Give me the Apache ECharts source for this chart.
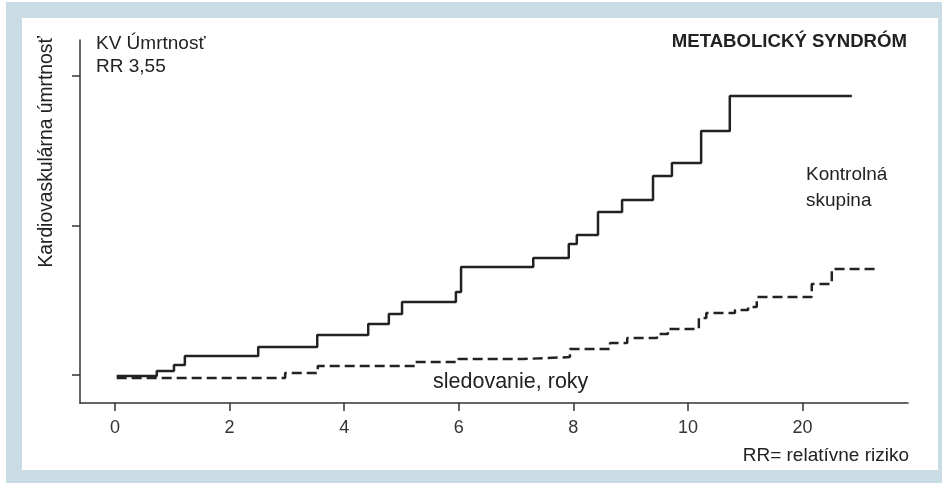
<!DOCTYPE html>
<html>
<head>
<meta charset="utf-8">
<script src="https://cdn.jsdelivr.net/npm/echarts@6/dist/echarts.min.js"></script>
<style>
  html, body { margin: 0; padding: 0; background: #fff; }
  #chart { width: 942px; height: 483px; }
</style>
</head>
<body>
<div id="chart"></div>
<script>
// osi: 2 roky na dielik, posledný dielik je označený "20"
const xTicks = [0, 2, 4, 6, 8, 10, 12];
const xTickLabels = ['0', '2', '4', '6', '8', '10', '20'];
const yTicks = [0, 1, 2];

// kontrolná skupina (plná čiara) - body schodov
const controlX = [0.03, 0.73, 1.03, 1.22, 2.50, 3.53, 4.42, 4.78, 5.01, 5.95, 6.04, 7.30, 7.92, 8.06, 8.43, 8.85, 9.39, 9.72, 10.23, 10.73, 12.86];
const controlY = [-0.007, 0.027, 0.067, 0.127, 0.187, 0.268, 0.341, 0.408, 0.488, 0.555, 0.722, 0.783, 0.876, 0.936, 1.090, 1.171, 1.331, 1.418, 1.632, 1.866, 1.866];

// metabolický syndróm (prerušovaná čiara)
const syndromeX = [0.03, 2.97, 3.54, 5.24, 5.99, 7.12, 7.94, 8.64, 8.94, 9.46, 9.65, 10.19, 10.32, 10.82, 11.05, 11.20, 12.16, 12.51, 13.26];
const syndromeY = [-0.020, 0.013, 0.060, 0.087, 0.107, 0.120, 0.174, 0.214, 0.247, 0.274, 0.308, 0.381, 0.415, 0.435, 0.455, 0.522, 0.609, 0.709, 0.709];

const FONT = "'Liberation Sans', Arial, sans-serif";
const INK = '#222';

const zip = (xs, ys) => xs.map((x, i) => [x, ys[i]]);

const chart = echarts.init(document.getElementById('chart'));

const txt = (text, x, y, align, font) => ({
  type: 'text',
  x: x,
  y: y,
  silent: true,
  style: {
    text: text,
    fill: INK,
    font: (font || '19px') + ' ' + FONT,
    align: align,
    verticalAlign: 'middle'
  }
});

const option = {
  animation: false,
  grid: { left: 80, right: 34, top: 40, bottom: 80, containLabel: false },
  xAxis: {
    type: 'value',
    min: -0.61,
    max: 13.84,
    splitLine: { show: false },
    axisLine: { show: true, onZero: false, lineStyle: { color: '#333', width: 1.5 } },
    axisTick: { show: true, customValues: xTicks, length: 8, lineStyle: { color: '#333', width: 1.5 } },
    axisLabel: {
      customValues: xTicks,
      formatter: (v) => xTickLabels[xTicks.indexOf(v)],
      fontSize: 18,
      fontFamily: FONT,
      color: '#333',
      margin: 16
    }
  },
  yAxis: {
    type: 'value',
    min: -0.187,
    max: 2.24,
    splitLine: { show: false },
    axisLine: { show: true, onZero: false, lineStyle: { color: '#333', width: 1.5 } },
    axisTick: { show: true, customValues: yTicks, length: 8, lineStyle: { color: '#333', width: 1.5 } },
    axisLabel: { show: false }
  },
  graphic: [
    { type: 'rect', z: -100, silent: true, shape: { x: 6, y: 2, width: 936, height: 481 }, style: { fill: '#c9dce6' } },
    { type: 'rect', z: -99, silent: true, shape: { x: 22, y: 18, width: 916, height: 452 }, style: { fill: '#fff' } },
    txt('KV Úmrtnosť', 96, 43.5, 'left'),
    txt('RR 3,55', 96, 66.7, 'left'),
    txt('METABOLICKÝ SYNDRÓM', 907, 42, 'right', 'bold 18.6px'),
    txt('Kontrolná', 806, 174.4, 'left'),
    txt('skupina', 806, 200.4, 'left'),
    txt('sledovanie, roky', 433, 382.5, 'left', '21.5px'),
    txt('RR= relatívne riziko', 909, 455.4, 'right'),
    {
      type: 'text',
      x: 46.5,
      y: 152,
      rotation: Math.PI / 2,
      silent: true,
      style: { text: 'Kardiovaskulárna úmrtnosť', fill: INK, font: '19.3px ' + FONT, align: 'center', verticalAlign: 'middle' }
    }
  ],
  series: [
    {
      name: 'Kontrolná skupina',
      type: 'line',
      step: 'end',
      showSymbol: false,
      data: zip(controlX, controlY),
      lineStyle: { color: INK, width: 2.5 }
    },
    {
      name: 'Metabolický syndróm',
      type: 'line',
      step: 'end',
      showSymbol: false,
      data: zip(syndromeX, syndromeY),
      lineStyle: { color: INK, width: 2.5, type: [10, 5] }
    }
  ]
};

chart.setOption(option);
</script>
</body>
</html>
